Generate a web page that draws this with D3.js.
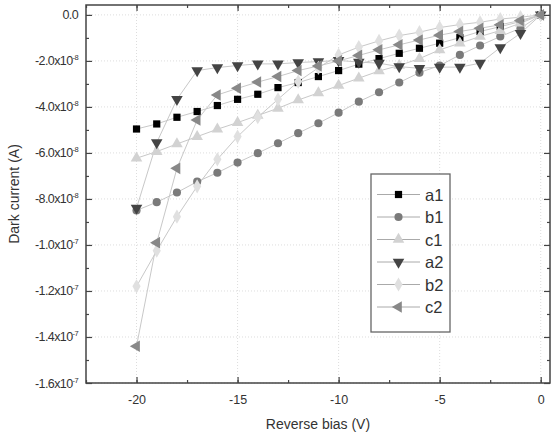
<!DOCTYPE html>
<html>
<head>
<meta charset="UTF-8" />
<style>
  body { margin: 0; background: #fff; }
  text { font-family: "Liberation Sans", Arial, sans-serif; fill: #333; }
</style>
</head>
<body>
<div id="chart"></div>
<script src="https://cdn.jsdelivr.net/npm/d3@7"></script>
<script>
// bias values (V) and dark current in units of 1e-8 A
const bias = [-20, -19, -18, -17, -16, -15, -14, -13, -12, -11, -10, -9, -8, -7, -6, -5, -4, -3, -2, -1, 0];
const a1 = [-4.96, -4.74, -4.45, -4.2, -3.94, -3.67, -3.45, -3.16, -2.94, -2.68, -2.42, -2.14, -1.9, -1.67, -1.45, -1.23, -0.99, -0.72, -0.51, -0.29, 0];
const b1 = [-8.5, -8.14, -7.72, -7.25, -6.86, -6.42, -6.01, -5.58, -5.14, -4.71, -4.25, -3.77, -3.36, -2.94, -2.51, -2.2, -1.74, -1.33, -0.94, -0.58, 0];
const c1 = [-6.23, -5.94, -5.61, -5.29, -4.97, -4.68, -4.37, -4.06, -3.7, -3.39, -3.07, -2.75, -2.44, -2.2, -1.9, -1.52, -1.23, -0.94, -0.68, -0.36, 0];
const a2 = [-8.4, -5.55, -3.67, -2.42, -2.29, -2.2, -2.13, -2.13, -2.07, -2.03, -1.98, -2.05, -2.1, -2.25, -2.32, -2.27, -2.27, -2.1, -1.42, -0.8, 0];
const b2 = [-11.8, -10.25, -8.77, -7.45, -6.28, -5.29, -4.45, -3.67, -2.9, -2.3, -1.74, -1.4, -1.13, -0.9, -0.75, -0.55, -0.42, -0.32, -0.18, -0.1, 0];
const c2 = [-14.4, -9.9, -6.67, -4.57, -3.48, -3.19, -2.92, -2.68, -2.42, -2.22, -2.0, -1.76, -1.52, -1.3, -1.09, -0.88, -0.72, -0.58, -0.43, -0.24, 0];

const seriesNames = ["a1", "b1", "c1", "a2", "b2", "c2"];
const seriesValues = [a1, b1, c1, a2, b2, c2];
const xTicks = [-20, -15, -10, -5, 0];
const yTicks = [0, -2, -4, -6, -8, -10, -12, -14, -16];

const width = 557, height = 438;
const margin = { left: 86, right: 7, top: 5, bottom: 55 };

const svg = d3.select("#chart").append("svg")
    .attr("width", width)
    .attr("height", height);

const x = d3.scaleLinear().domain([-22.5, 0.46]).range([margin.left, width - margin.right]);
const y = d3.scaleLinear().domain([-16, 0.43]).range([height - margin.bottom, margin.top]);

const markerStyle = {
    a1: { sym: d3.symbolSquare, size: 52, rot: 0, fill: "#000" },
    b1: { sym: d3.symbolCircle, size: 52, rot: 0, fill: "#7a7a7a" },
    c1: { sym: d3.symbolTriangle, size: 58, rot: 0, fill: "#d2d2d2" },
    a2: { sym: d3.symbolTriangle, size: 58, rot: 180, fill: "#444" },
    b2: { sym: d3.symbolDiamond, size: 58, rot: 0, fill: "#e0e0e0" },
    c2: { sym: d3.symbolTriangle, size: 58, rot: -90, fill: "#888" }
};

// grid
const grid = svg.append("g");
grid.selectAll(".gx").data(xTicks).join("line")
    .attr("x1", d => x(d)).attr("x2", d => x(d))
    .attr("y1", y.range()[1]).attr("y2", y.range()[0])
    .attr("stroke", "#ddd").attr("stroke-dasharray", "1,2");
grid.selectAll(".gy").data(yTicks).join("line")
    .attr("x1", x.range()[0]).attr("x2", x.range()[1])
    .attr("y1", d => y(d)).attr("y2", d => y(d))
    .attr("stroke", "#ddd").attr("stroke-dasharray", "1,2");

// series lines + markers
const line = d3.line().x((d, i) => x(bias[i])).y(d => y(d));
seriesNames.forEach((name, k) => {
    svg.append("path")
        .datum(seriesValues[k])
        .attr("d", line)
        .attr("fill", "none")
        .attr("stroke", "#c8c8c8")
        .attr("stroke-width", 1);
});
seriesNames.forEach((name, k) => {
    const st = markerStyle[name];
    svg.append("g").selectAll("path")
        .data(seriesValues[k])
        .join("path")
        .attr("d", d3.symbol().type(st.sym).size(st.size))
        .attr("transform", (d, i) => `translate(${x(bias[i])},${y(d)}) rotate(${st.rot})`)
        .attr("fill", st.fill);
});

// axes (ticks inward)
const xMinor = d3.range(-22.5, 0.5, 2.5);
const yMinor = d3.range(-15, 0.5, 2);

svg.append("g").attr("transform", `translate(0,${y.range()[0]})`)
    .call(d3.axisBottom(x).tickValues(xTicks).tickSize(-6).tickPadding(12).tickFormat(d => String(d)))
    .call(g => g.select(".domain").remove());
svg.append("g").attr("transform", `translate(0,${y.range()[0]})`)
    .call(d3.axisBottom(x).tickValues(xMinor).tickSize(-3).tickFormat(""))
    .call(g => g.select(".domain").remove());
svg.append("g").attr("transform", `translate(0,${y.range()[1]})`)
    .call(d3.axisTop(x).tickValues(xTicks).tickSize(-6).tickFormat(""))
    .call(g => g.select(".domain").remove());
svg.append("g").attr("transform", `translate(0,${y.range()[1]})`)
    .call(d3.axisTop(x).tickValues(xMinor).tickSize(-3).tickFormat(""))
    .call(g => g.select(".domain").remove());

svg.append("g").attr("transform", `translate(${x.range()[0]},0)`)
    .call(d3.axisLeft(y).tickValues(yTicks).tickSize(-6).tickFormat(""))
    .call(g => g.select(".domain").remove());
svg.append("g").attr("transform", `translate(${x.range()[0]},0)`)
    .call(d3.axisLeft(y).tickValues(yMinor).tickSize(-3).tickFormat(""))
    .call(g => g.select(".domain").remove());
svg.append("g").attr("transform", `translate(${x.range()[1]},0)`)
    .call(d3.axisRight(y).tickValues(yTicks).tickSize(-6).tickFormat(""))
    .call(g => g.select(".domain").remove());
svg.append("g").attr("transform", `translate(${x.range()[1]},0)`)
    .call(d3.axisRight(y).tickValues(yMinor).tickSize(-3).tickFormat(""))
    .call(g => g.select(".domain").remove());

svg.selectAll(".tick line").attr("stroke", "#444").attr("stroke-width", 1.2);
svg.selectAll(".tick text").attr("font-size", 12.5).attr("fill", "#333")
    .attr("font-family", "'Liberation Sans', Arial, sans-serif");

// y tick labels with scientific notation
const yLab = svg.append("g");
yTicks.forEach(v => {
    const t = yLab.append("text")
        .attr("x", x.range()[0] - 8)
        .attr("y", y(v) + 4.5)
        .attr("text-anchor", "end")
        .attr("font-size", 12.5)
        .attr("letter-spacing", -0.6);
    if (v === 0) {
        t.text("0.0");
        return;
    }
    const exp = v <= -10 ? -7 : -8;
    const mant = (v / (exp === -7 ? 10 : 1)).toFixed(1);
    t.append("tspan").text(mant + "x10");
    t.append("tspan").attr("dy", -5).attr("font-size", 7.5).text(String(exp));
});

// frame
svg.append("rect")
    .attr("x", x.range()[0]).attr("y", y.range()[1])
    .attr("width", x.range()[1] - x.range()[0])
    .attr("height", y.range()[0] - y.range()[1])
    .attr("fill", "none").attr("stroke", "#444").attr("stroke-width", 1.5);

// axis titles
svg.append("text")
    .attr("x", (x.range()[0] + x.range()[1]) / 2)
    .attr("y", 429)
    .attr("text-anchor", "middle")
    .attr("font-size", 14)
    .text("Reverse bias (V)");
svg.append("text")
    .attr("transform", `translate(19,${(y.range()[0] + y.range()[1]) / 2}) rotate(-90)`)
    .attr("text-anchor", "middle")
    .attr("font-size", 14)
    .text("Dark current (A)");

// legend
const lg = svg.append("g").attr("transform", "translate(371,174)");
lg.append("rect").attr("width", 79).attr("height", 158)
    .attr("fill", "#fff").attr("stroke", "#666").attr("stroke-width", 1.3);
seriesNames.forEach((name, k) => {
    const st = markerStyle[name];
    const yy = 20.5 + k * 22.5;
    lg.append("line").attr("x1", 6).attr("x2", 49).attr("y1", yy).attr("y2", yy)
        .attr("stroke", "#aaa").attr("stroke-width", 1);
    lg.append("path")
        .attr("d", d3.symbol().type(st.sym).size(st.size))
        .attr("transform", `translate(27.5,${yy}) rotate(${st.rot})`)
        .attr("fill", st.fill);
    lg.append("text").attr("x", 54).attr("y", yy + 6)
        .attr("font-size", 16.5).attr("fill", "#222").text(name);
});
</script>
</body>
</html>
